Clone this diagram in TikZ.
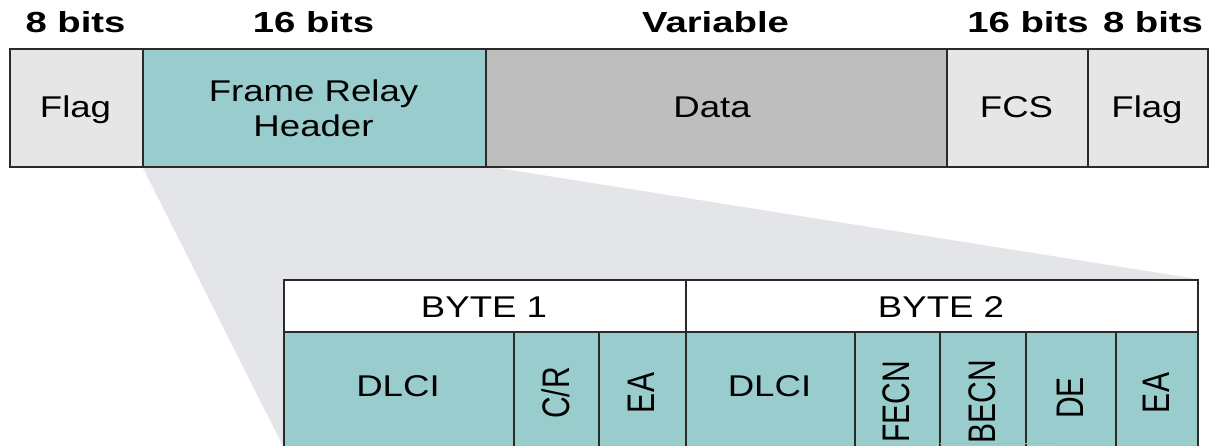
\documentclass[tikz,border=0pt]{standalone}
\usepackage{fontspec}
\setmainfont{Liberation Sans}[FakeStretch=1.22,BoldFeatures={FakeStretch=1.32}]
\newfontfamily\uprightfont{Liberation Sans}
\definecolor{flaggray}{HTML}{E6E6E6}
\definecolor{hdrteal}{HTML}{99CCCC}
\definecolor{datagray}{HTML}{BEBEBE}
\definecolor{zoomshade}{HTML}{E4E5E9}
\definecolor{edge}{HTML}{2A2A2A}
\newcommand{\widecap}[1]{\scalebox{1}[1.28]{#1}}
\tikzset{
  cellbox/.style={draw=edge, line width=2pt, inner sep=0pt, anchor=north west},
  lbl/.style={inner sep=0pt, anchor=base, font=\fontsize{30}{35}\selectfont},
  sizelbl/.style={inner sep=0pt, anchor=base, font=\bfseries\fontsize{29}{34}\selectfont},
  vlbl/.style={inner sep=0pt, rotate=90, anchor=center,
               font=\uprightfont\fontsize{30}{35}\selectfont},
}
\begin{document}
\begin{tikzpicture}[x=1pt, y=-1pt]
\useasboundingbox (0,0) rectangle (1219,446);
\clip (0,0) rectangle (1219,446);
\fill[white] (0,0) rectangle (1219,446);

% magnified-region wedge behind the header detail
\fill[zoomshade] (142,166) -- (485,166) -- (1197,279) -- (1197,470) -- (283,470) -- (283,446) -- cycle;

% frame fields
\node[cellbox, fill=flaggray, minimum width=133pt, minimum height=118pt] (flagA) at (9,48) {};
\node[cellbox, fill=hdrteal, minimum width=343pt, minimum height=118pt] (hdr) at (142,48) {};
\node[cellbox, fill=datagray, minimum width=461pt, minimum height=118pt] (data) at (485,48) {};
\node[cellbox, fill=flaggray, minimum width=141pt, minimum height=118pt] (fcs) at (946,48) {};
\node[cellbox, fill=flaggray, minimum width=120pt, minimum height=118pt] (flagB) at (1087,48) {};

\node[lbl] (tflagA) at (75.5,118) {Flag};
\node[lbl] (thdr1) at (313.5,102) {Frame Relay};
\node[lbl] (thdr2) at (313.5,137) {Header};
\node[lbl] (tdata) at (712,118) {Data};
\node[lbl] (tfcs) at (1016.5,118) {FCS};
\node[lbl] (tflagB) at (1147,118) {Flag};

% field sizes
\node[sizelbl] (sflagA) at (75.5,33) {8 bits};
\node[sizelbl] (shdr) at (313.5,33) {16 bits};
\node[sizelbl] (sdata) at (715.5,33) {Variable};
\node[sizelbl] (sfcs) at (1028,33) {16 bits};
\node[sizelbl] (sflagB) at (1153,33) {8 bits};

% header detail: byte row
\node[cellbox, fill=white, minimum width=402pt, minimum height=52pt] (byteA) at (283,279) {};
\node[cellbox, fill=white, minimum width=512pt, minimum height=52pt] (byteB) at (685,279) {};
\node[lbl] (tbyteA) at (484,318) {BYTE 1};
\node[lbl] (tbyteB) at (941,318) {BYTE 2};

% header detail: bit fields
\node[cellbox, fill=hdrteal, minimum width=230pt, minimum height=160pt] (dlciA) at (283,331) {};
\node[cellbox, fill=hdrteal, minimum width=85pt, minimum height=160pt] (cr) at (513,331) {};
\node[cellbox, fill=hdrteal, minimum width=87pt, minimum height=160pt] (eaA) at (598,331) {};
\node[cellbox, fill=hdrteal, minimum width=169pt, minimum height=160pt] (dlciB) at (685,331) {};
\node[cellbox, fill=hdrteal, minimum width=85pt, minimum height=160pt] (fecn) at (854,331) {};
\node[cellbox, fill=hdrteal, minimum width=86pt, minimum height=160pt] (becn) at (939,331) {};
\node[cellbox, fill=hdrteal, minimum width=90pt, minimum height=160pt] (de) at (1025,331) {};
\node[cellbox, fill=hdrteal, minimum width=82pt, minimum height=160pt] (eaB) at (1115,331) {};

\node[lbl] (tdlciA) at (398,397) {DLCI};
\node[lbl] (tdlciB) at (769.5,397) {DLCI};
\node[vlbl] (tcr) at (555.5,393) {\widecap{C/R}};
\node[vlbl] (teaA) at (641.5,393) {\widecap{EA}};
\node[vlbl] (tfecn) at (896.5,402) {\widecap{FECN}};
\node[vlbl] (tbecn) at (982,402) {\widecap{BECN}};
\node[vlbl] (tde) at (1070,398) {\widecap{DE}};
\node[vlbl] (teaB) at (1156,393) {\widecap{EA}};

% faint rule at the foot of the BECN field
\coordinate (rulestart) at (940,443);
\coordinate (ruleend) at (1057,443);
\draw[line width=1pt, edge!35] (rulestart) -- (ruleend);
\end{tikzpicture}
\end{document}
